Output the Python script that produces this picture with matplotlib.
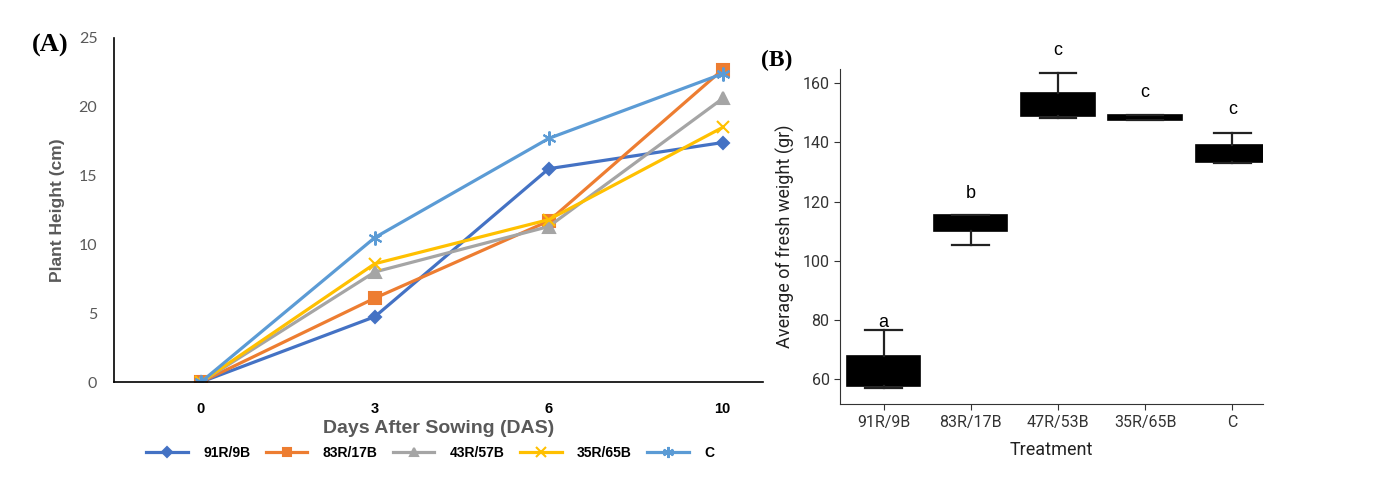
import matplotlib
matplotlib.use("Agg")
import matplotlib.pyplot as plt

# ---- panel A data: plant height over days ----
days = ["0", "3", "6", "10"]
series_names = ["91R/9B", "83R/17B", "43R/57B", "35R/65B", "C"]
h_91R9B = [0, 4.75, 15.5, 17.4]
h_83R17B = [0, 6.1, 11.7, 22.7]
h_43R57B = [0, 8.0, 11.3, 20.6]
h_35R65B = [0, 8.6, 11.8, 18.5]
h_C = [0, 10.5, 17.7, 22.4]

# ---- panel B data: fresh weight boxes ----
treatments = ["91R/9B", "83R/17B", "47R/53B", "35R/65B", "C"]
w_low = [57.0, 105.4, 148.3, 147.6, 133.2]
w_q1 = [57.6, 110.2, 148.8, 147.6, 133.4]
w_med = [62.0, 114.8, 152.0, 148.3, 137.5]
w_q3 = [67.7, 115.3, 156.8, 149.4, 139.2]
w_high = [76.6, 115.3, 163.6, 149.4, 143.2]
letters = ["a", "b", "c", "c", "c"]
letter_y = [79.2, 122.7, 171.0, 157.0, 151.0]

colors = ["#4472C4", "#ED7D31", "#A5A5A5", "#FFC000", "#5B9BD5"]
markers = ["D", "s", "^", "x", (6, 2, 0)]
msizes = [6, 8, 8, 9, 10]
grey = "#595959"
bfont = "Roboto"

fig = plt.figure(figsize=(13.92, 4.8), dpi=100)

# ================= panel A =================
axA = fig.add_axes([0.0819, 0.204, 0.466, 0.717])
xs = range(len(days))
all_h = [h_91R9B, h_83R17B, h_43R57B, h_35R65B, h_C]
for name, vals, c, m, ms in zip(series_names, all_h, colors, markers, msizes):
    axA.plot(xs, vals, color=c, lw=2.3, marker=m, ms=ms, mew=1.5,
             mfc=c, mec=c, label=name)

axA.set_xlim(-0.5, 3.23)
axA.set_ylim(0, 25)
axA.set_yticks([0, 5, 10, 15, 20, 25])
axA.set_xticks(list(xs))
axA.set_xticklabels(days, fontweight="bold", fontsize=10.5, family="Liberation Sans")
axA.tick_params(axis="x", length=0, pad=14)
axA.tick_params(axis="y", length=0, pad=12, labelcolor=grey, labelsize=11.5)
for lab in axA.get_yticklabels():
    lab.set_family("Lato")
for s in ["top", "right"]:
    axA.spines[s].set_visible(False)
axA.spines["left"].set_linewidth(1.2)
axA.spines["bottom"].set_linewidth(1.2)
axA.set_xlabel("Days After Sowing (DAS)", fontsize=14, fontweight="bold",
               color=grey, family="Liberation Sans", labelpad=3)
axA.set_ylabel("Plant Height (cm)", fontsize=12.5, fontweight="bold",
               color=grey, family="Liberation Sans", labelpad=10)

handles, labels = axA.get_legend_handles_labels()
leg = fig.legend(handles, labels, loc="center", bbox_to_anchor=(0.309, 0.056),
                 ncol=5, frameon=False, handlelength=3.0, handletextpad=1.1,
                 columnspacing=1.1, markerscale=0.8,
                 prop={"family": "Liberation Sans", "weight": "bold", "size": 10})

fig.text(0.023, 0.905, "(A)", fontsize=19, fontweight="bold",
         family="Liberation Serif", va="center", ha="left")

# ================= panel B =================
axB = fig.add_axes([0.6034, 0.158, 0.3038, 0.698])
stats = []
for i, t in enumerate(treatments):
    stats.append({"label": t, "whislo": w_low[i], "q1": w_q1[i], "med": w_med[i],
                  "q3": w_q3[i], "whishi": w_high[i]})
axB.bxp(stats, positions=range(len(treatments)), widths=0.84, patch_artist=True,
        showfliers=False,
        boxprops=dict(facecolor="black", edgecolor="black", linewidth=1.2),
        medianprops=dict(color="black", linewidth=1.2),
        whiskerprops=dict(color="#222222", linewidth=1.6),
        capprops=dict(color="#222222", linewidth=1.6), capwidths=0.42)

for i, (lt, ly) in enumerate(zip(letters, letter_y)):
    axB.text(i, ly, lt, ha="center", va="center", fontsize=13,
             family="Liberation Sans", clip_on=False)

axB.set_xlim(-0.5, 4.35)
axB.set_ylim(51.5, 164.8)
axB.set_yticks([60, 80, 100, 120, 140, 160])
axB.set_xticks(range(len(treatments)))
axB.set_xticklabels(treatments)
for s in ["top", "right"]:
    axB.spines[s].set_visible(False)
axB.spines["left"].set_color("#333333")
axB.spines["bottom"].set_color("#333333")
axB.tick_params(labelsize=11.5, colors="#333333", length=4)
for lab in axB.get_xticklabels() + axB.get_yticklabels():
    lab.set_family(bfont)
axB.set_xlabel("Treatment", fontsize=13, color="#222222", labelpad=8,
               family=bfont)
axB.set_ylabel("Average of fresh weight (gr)", fontsize=13, color="#222222",
               labelpad=5, family=bfont)

fig.text(0.547, 0.875, "(B)", fontsize=17, fontweight="bold",
         family="Liberation Serif", va="center", ha="left")

fig.savefig("out.png", dpi=100)
